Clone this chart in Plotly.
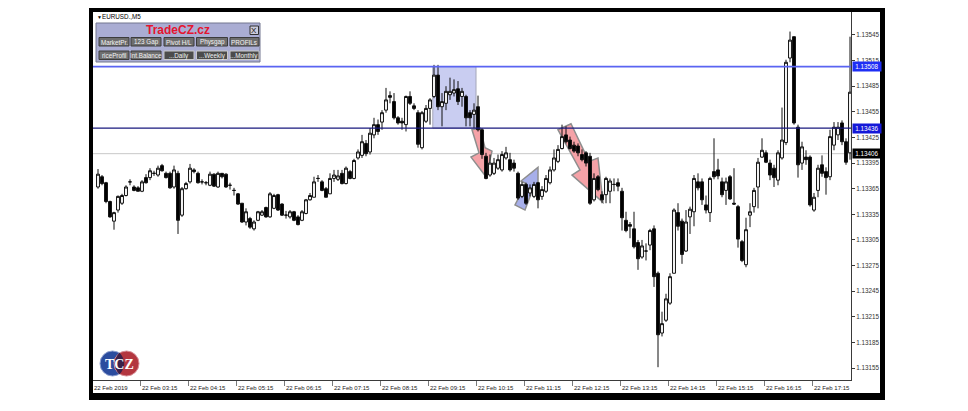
import plotly.graph_objects as go

W, H = 968, 411

# ---------------- data (EURUSD M5, 22 Feb 2019, 02:20 .. 18:00) ----------------
OPEN = [
    1.13367, 1.13379, 1.13372, 1.13350, 1.13327, 1.13340, 1.13348, 1.13357, 1.13373, 1.13367,
    1.13366, 1.13362, 1.13378, 1.13378, 1.13383, 1.13381, 1.13392, 1.13383, 1.13383, 1.13367,
    1.13383, 1.13334, 1.13365, 1.13373, 1.13387, 1.13383, 1.13373, 1.13372, 1.13369, 1.13382,
    1.13367, 1.13383, 1.13382, 1.13369, 1.13363, 1.13359, 1.13348, 1.13326, 1.13330, 1.13318,
    1.13328, 1.13334, 1.13343, 1.13332, 1.13342, 1.13358, 1.13347, 1.13334, 1.13332, 1.13338,
    1.13332, 1.13328, 1.13336, 1.13352, 1.13355, 1.13377, 1.13373, 1.13365, 1.13359, 1.13377,
    1.13376, 1.13383, 1.13371, 1.13385, 1.13377, 1.13401, 1.13404, 1.13418, 1.13408, 1.13428,
    1.13440, 1.13443, 1.13457, 1.13474, 1.13467, 1.13448, 1.13444, 1.13440, 1.13473, 1.13462,
    1.13454, 1.13413, 1.13444, 1.13459, 1.13473, 1.13498, 1.13461, 1.13465, 1.13475, 1.13477,
    1.13482, 1.13473, 1.13473, 1.13454, 1.13452, 1.13461, 1.13434, 1.13403, 1.13381, 1.13383,
    1.13389, 1.13387, 1.13401, 1.13399, 1.13395, 1.13383, 1.13356, 1.13370, 1.13360, 1.13356,
    1.13372, 1.13356, 1.13362, 1.13372, 1.13387, 1.13397, 1.13412, 1.13428, 1.13422, 1.13416,
    1.13415, 1.13405, 1.13407, 1.13403, 1.13352, 1.13379, 1.13358, 1.13358, 1.13362, 1.13370,
    1.13372, 1.13362, 1.13328, 1.13323, 1.13318, 1.13302, 1.13285, 1.13292, 1.13299, 1.13318,
    1.13266, 1.13196, 1.13211, 1.13231, 1.13266, 1.13337, 1.13327, 1.13292, 1.13332, 1.13338,
    1.13373, 1.13373, 1.13346, 1.13337, 1.13385, 1.13387, 1.13373, 1.13363, 1.13379, 1.13348,
    1.13344, 1.13303, 1.13276, 1.13334, 1.13344, 1.13367, 1.13402, 1.13407, 1.13395, 1.13389,
    1.13375, 1.13401, 1.13419, 1.13518, 1.13543, 1.13437, 1.13395, 1.13402, 1.13402, 1.13340,
    1.13363, 1.13393, 1.13385, 1.13379, 1.13416, 1.13428, 1.13442, 1.13420, 1.13407,
]
HIGH = [
    1.13388, 1.13381, 1.13373, 1.13351, 1.13338, 1.13357, 1.13359, 1.13369, 1.13376, 1.13369,
    1.13368, 1.13375, 1.13382, 1.13389, 1.13386, 1.13392, 1.13394, 1.13385, 1.13385, 1.13392,
    1.13386, 1.13367, 1.13373, 1.13394, 1.13389, 1.13385, 1.13376, 1.13374, 1.13385, 1.13383,
    1.13385, 1.13383, 1.13383, 1.13372, 1.13366, 1.13360, 1.13348, 1.13342, 1.13332, 1.13328,
    1.13339, 1.13340, 1.13344, 1.13361, 1.13359, 1.13359, 1.13348, 1.13339, 1.13340, 1.13339,
    1.13334, 1.13340, 1.13353, 1.13360, 1.13379, 1.13381, 1.13375, 1.13367, 1.13383, 1.13387,
    1.13387, 1.13387, 1.13391, 1.13387, 1.13400, 1.13411, 1.13428, 1.13422, 1.13436, 1.13448,
    1.13446, 1.13457, 1.13483, 1.13479, 1.13477, 1.13450, 1.13448, 1.13474, 1.13479, 1.13465,
    1.13457, 1.13456, 1.13463, 1.13471, 1.13510, 1.13510, 1.13477, 1.13485, 1.13495, 1.13493,
    1.13491, 1.13483, 1.13475, 1.13457, 1.13465, 1.13474, 1.13436, 1.13407, 1.13405, 1.13401,
    1.13405, 1.13409, 1.13414, 1.13407, 1.13399, 1.13385, 1.13373, 1.13372, 1.13370, 1.13373,
    1.13373, 1.13368, 1.13381, 1.13391, 1.13411, 1.13416, 1.13440, 1.13438, 1.13426, 1.13420,
    1.13418, 1.13411, 1.13409, 1.13407, 1.13383, 1.13381, 1.13362, 1.13379, 1.13377, 1.13377,
    1.13377, 1.13366, 1.13338, 1.13326, 1.13338, 1.13305, 1.13305, 1.13301, 1.13318, 1.13322,
    1.13268, 1.13221, 1.13242, 1.13266, 1.13342, 1.13348, 1.13330, 1.13340, 1.13344, 1.13381,
    1.13383, 1.13377, 1.13357, 1.13379, 1.13424, 1.13400, 1.13378, 1.13378, 1.13381, 1.13389,
    1.13346, 1.13305, 1.13331, 1.13348, 1.13366, 1.13401, 1.13424, 1.13410, 1.13399, 1.13393,
    1.13410, 1.13460, 1.13516, 1.13549, 1.13543, 1.13440, 1.13420, 1.13410, 1.13404, 1.13360,
    1.13393, 1.13404, 1.13390, 1.13434, 1.13443, 1.13443, 1.13445, 1.13424, 1.13543,
]
LOW = [
    1.13365, 1.13369, 1.13348, 1.13331, 1.13317, 1.13337, 1.13346, 1.13356, 1.13369, 1.13362,
    1.13362, 1.13361, 1.13371, 1.13375, 1.13380, 1.13379, 1.13385, 1.13377, 1.13365, 1.13365,
    1.13312, 1.13332, 1.13364, 1.13371, 1.13383, 1.13371, 1.13370, 1.13369, 1.13368, 1.13367,
    1.13366, 1.13377, 1.13366, 1.13364, 1.13357, 1.13346, 1.13325, 1.13322, 1.13318, 1.13316,
    1.13327, 1.13333, 1.13331, 1.13331, 1.13341, 1.13339, 1.13333, 1.13330, 1.13330, 1.13327,
    1.13322, 1.13327, 1.13335, 1.13351, 1.13355, 1.13373, 1.13362, 1.13355, 1.13359, 1.13373,
    1.13374, 1.13370, 1.13370, 1.13376, 1.13376, 1.13399, 1.13401, 1.13403, 1.13405, 1.13424,
    1.13428, 1.13434, 1.13454, 1.13465, 1.13446, 1.13440, 1.13434, 1.13432, 1.13463, 1.13457,
    1.13413, 1.13411, 1.13442, 1.13440, 1.13471, 1.13457, 1.13438, 1.13457, 1.13469, 1.13473,
    1.13463, 1.13461, 1.13438, 1.13438, 1.13436, 1.13432, 1.13400, 1.13376, 1.13379, 1.13381,
    1.13387, 1.13385, 1.13399, 1.13385, 1.13385, 1.13352, 1.13354, 1.13346, 1.13356, 1.13354,
    1.13342, 1.13352, 1.13360, 1.13370, 1.13385, 1.13395, 1.13411, 1.13418, 1.13411, 1.13407,
    1.13403, 1.13397, 1.13391, 1.13346, 1.13350, 1.13362, 1.13348, 1.13348, 1.13348, 1.13362,
    1.13362, 1.13316, 1.13314, 1.13307, 1.13295, 1.13270, 1.13283, 1.13281, 1.13293, 1.13250,
    1.13156, 1.13192, 1.13209, 1.13229, 1.13266, 1.13316, 1.13277, 1.13291, 1.13312, 1.13321,
    1.13363, 1.13346, 1.13336, 1.13326, 1.13376, 1.13376, 1.13355, 1.13346, 1.13352, 1.13346,
    1.13296, 1.13279, 1.13273, 1.13320, 1.13337, 1.13342, 1.13401, 1.13395, 1.13375, 1.13367,
    1.13369, 1.13399, 1.13416, 1.13513, 1.13440, 1.13378, 1.13387, 1.13393, 1.13344, 1.13338,
    1.13355, 1.13379, 1.13358, 1.13375, 1.13410, 1.13422, 1.13416, 1.13393, 1.13399,
]
CLOSE = [
    1.13382, 1.13371, 1.13350, 1.13332, 1.13337, 1.13356, 1.13357, 1.13367, 1.13373, 1.13363,
    1.13362, 1.13373, 1.13372, 1.13386, 1.13383, 1.13389, 1.13386, 1.13378, 1.13366, 1.13387,
    1.13328, 1.13365, 1.13371, 1.13389, 1.13385, 1.13372, 1.13373, 1.13372, 1.13382, 1.13368,
    1.13383, 1.13379, 1.13367, 1.13369, 1.13363, 1.13347, 1.13326, 1.13338, 1.13320, 1.13326,
    1.13338, 1.13338, 1.13332, 1.13359, 1.13357, 1.13340, 1.13334, 1.13334, 1.13338, 1.13328,
    1.13323, 1.13338, 1.13352, 1.13357, 1.13373, 1.13377, 1.13363, 1.13355, 1.13377, 1.13381,
    1.13380, 1.13371, 1.13389, 1.13377, 1.13398, 1.13408, 1.13420, 1.13406, 1.13430, 1.13440,
    1.13432, 1.13454, 1.13469, 1.13472, 1.13448, 1.13442, 1.13442, 1.13473, 1.13465, 1.13459,
    1.13417, 1.13454, 1.13459, 1.13469, 1.13498, 1.13461, 1.13467, 1.13479, 1.13479, 1.13481,
    1.13467, 1.13479, 1.13448, 1.13448, 1.13457, 1.13434, 1.13405, 1.13377, 1.13395, 1.13395,
    1.13399, 1.13405, 1.13407, 1.13387, 1.13389, 1.13354, 1.13370, 1.13348, 1.13366, 1.13370,
    1.13352, 1.13364, 1.13377, 1.13387, 1.13401, 1.13411, 1.13426, 1.13420, 1.13412, 1.13409,
    1.13407, 1.13399, 1.13395, 1.13348, 1.13377, 1.13364, 1.13352, 1.13377, 1.13374, 1.13370,
    1.13368, 1.13331, 1.13316, 1.13321, 1.13297, 1.13283, 1.13298, 1.13292, 1.13316, 1.13262,
    1.13194, 1.13207, 1.13236, 1.13262, 1.13340, 1.13321, 1.13288, 1.13326, 1.13341, 1.13377,
    1.13366, 1.13352, 1.13340, 1.13377, 1.13379, 1.13380, 1.13358, 1.13373, 1.13353, 1.13347,
    1.13306, 1.13281, 1.13317, 1.13338, 1.13363, 1.13396, 1.13410, 1.13396, 1.13381, 1.13378,
    1.13407, 1.13422, 1.13513, 1.13539, 1.13442, 1.13393, 1.13414, 1.13399, 1.13346, 1.13355,
    1.13389, 1.13383, 1.13378, 1.13426, 1.13437, 1.13437, 1.13420, 1.13396, 1.13478,
]
BARS = list(range(len(OPEN)))

PRICE_TICKS = [1.13545, 1.13515, 1.13485, 1.13455, 1.13425, 1.13395, 1.13365,
               1.13335, 1.13305, 1.13275, 1.13245, 1.13215, 1.13185, 1.13155]
PRICE_TICK_TEXT = ["1.13545", "1.13515", "1.13485", "1.13455", "1.13425", "1.13395", "1.13365",
                   "1.13335", "1.13305", "1.13275", "1.13245", "1.13215", "1.13185", "1.13155"]

TIME_LABEL_BARS = [11, 23, 35, 47, 59, 71, 83, 95, 107, 119, 131, 143, 155, 167, 179]
TIME_LABELS = ["22 Feb 03:15", "22 Feb 04:15", "22 Feb 05:15", "22 Feb 06:15", "22 Feb 07:15",
               "22 Feb 08:15", "22 Feb 09:15", "22 Feb 10:15", "22 Feb 11:15", "22 Feb 12:15",
               "22 Feb 13:15", "22 Feb 14:15", "22 Feb 15:15", "22 Feb 16:15", "22 Feb 17:15"]
DATE_LABEL = "22 Feb 2019"
SYMBOL = "EURUSD.,M5"

RESIST_LEVEL = 1.13508
SUPPORT_LEVEL = 1.13436
BID_LEVEL = 1.13406

# drawn objects, in (bar index, price)
ZONE_X = [83.7, 94.5]
ZONE_Y = [SUPPORT_LEVEL, RESIST_LEVEL]
ARROW_RED_1 = [(93.5, 1.13434), (95.5, 1.13436), (96.75, 1.13413), (98.5, 1.13409),
               (97.0, 1.13379), (93.25, 1.13402), (95.25, 1.13407)]
ARROW_RED_2 = [(115.0, 1.13434), (118.25, 1.13441), (122.75, 1.13397), (125.0, 1.13401),
               (126.25, 1.13349), (118.5, 1.13381), (120.5, 1.13387)]
ARROW_BLUE = [(110.0, 1.13390), (110.0, 1.13361), (108.75, 1.13365), (106.75, 1.13340),
              (104.25, 1.13346), (107.0, 1.13371), (105.75, 1.13374)]

PANEL_TITLE = "TradeCZ.cz"
BUTTONS_ROW1 = ["MarketPr.", "123 Gap", "Pivot H/L", "Physgap", "PROFILs"]
BUTTONS_ROW2 = ["riceProfil", "Int.Balance", "...Daily", "...Weekly", "...Monthly"]

# ---------------- layout geometry (pixels) ----------------
PLOT_L, PLOT_R, PLOT_T, PLOT_B = 93, 851, 12, 380
X_RANGE = [-1.25, 188.25]
Y_RANGE = [1.131410, 1.135719]
FONT = "Liberation Sans, Arial, sans-serif"


def fx(x):
    return x / W


def fy(y):
    return 1 - y / H


def path_of(points):
    return "M " + " L ".join(f"{a},{b}" for a, b in points) + " Z"


fig = go.Figure()
fig.add_trace(go.Candlestick(
    x=BARS, open=OPEN, high=HIGH, low=LOW, close=CLOSE,
    increasing=dict(line=dict(color="#111111", width=1), fillcolor="white"),
    decreasing=dict(line=dict(color="#111111", width=1), fillcolor="black"),
    whiskerwidth=0, hoverinfo="skip", showlegend=False,
))

shapes = []
# outer black frame and white chart window
shapes.append(dict(type="rect", xref="paper", yref="paper", x0=fx(89), x1=fx(885), y0=fy(400), y1=fy(8),
                   fillcolor="black", line=dict(width=0), layer="below"))
shapes.append(dict(type="rect", xref="paper", yref="paper", x0=fx(93), x1=fx(880), y0=fy(393), y1=fy(12),
                   fillcolor="white", line=dict(width=0), layer="below"))
# bid line
shapes.append(dict(type="line", xref="paper", yref="y", x0=fx(PLOT_L), x1=fx(PLOT_R), y0=BID_LEVEL, y1=BID_LEVEL,
                   line=dict(color="#C8C8C8", width=1), layer="below"))
# zone and arrows
shapes.append(dict(type="rect", xref="x", yref="y", x0=ZONE_X[0], x1=ZONE_X[1], y0=ZONE_Y[0], y1=ZONE_Y[1],
                   fillcolor="#C9CDF1", line=dict(color="#A4A6B8", width=1), layer="below"))
for pts, col in [(ARROW_RED_1, "#F5A2A7"), (ARROW_RED_2, "#F5A2A7"), (ARROW_BLUE, "#A7AFEA")]:
    shapes.append(dict(type="path", xref="x", yref="y", path=path_of(pts),
                       fillcolor=col, line=dict(color="#8E8E8E", width=1.5), layer="below"))
# horizontal levels
shapes.append(dict(type="line", xref="paper", yref="y", x0=fx(PLOT_L), x1=fx(PLOT_R), y0=RESIST_LEVEL, y1=RESIST_LEVEL,
                   line=dict(color="#5A64F2", width=1.8), layer="above"))
shapes.append(dict(type="line", xref="paper", yref="y", x0=fx(PLOT_L), x1=fx(PLOT_R), y0=SUPPORT_LEVEL, y1=SUPPORT_LEVEL,
                   line=dict(color="#18187E", width=1.3), layer="above"))

# TradeCZ panel
shapes.append(dict(type="rect", xref="paper", yref="paper", x0=fx(96), x1=fx(260), y0=fy(62), y1=fy(23),
                   fillcolor="#AAADD3", line=dict(color="#73768F", width=1), layer="above"))
shapes.append(dict(type="rect", xref="paper", yref="paper", x0=fx(250), x1=fx(258.5), y0=fy(34.5), y1=fy(26),
                   fillcolor="#CBCBDA", line=dict(color="#303030", width=1), layer="above"))
BTN_X = [(99, 129), (131, 161), (164, 194), (196.5, 227.5), (230, 259)]
annotations = []
for row, (ya, yb) in enumerate([(37.5, 46), (51, 59.5)]):
    labels = BUTTONS_ROW1 if row == 0 else BUTTONS_ROW2
    for k, (xa, xb) in enumerate(BTN_X):
        dark = row == 1 and k >= 2
        shapes.append(dict(type="rect", xref="paper", yref="paper", x0=fx(xa), x1=fx(xb), y0=fy(yb), y1=fy(ya),
                           fillcolor="#4C4C4C" if dark else "#6E6E6E",
                           line=dict(color="#C9C9C9" if dark else "#3C3C3C", width=1), layer="above"))
        annotations.append(dict(xref="paper", yref="paper", x=fx((xa + xb) / 2), y=fy((ya + yb) / 2 + 0.3),
                                text=labels[k], showarrow=False, xanchor="center", yanchor="middle",
                                font=dict(family=FONT, size=6.3, color="#F2F2F2")))
annotations.append(dict(xref="paper", yref="paper", x=fx(178), y=fy(30.5), text="<b>" + PANEL_TITLE + "</b>",
                        showarrow=False, xanchor="center", yanchor="middle",
                        font=dict(family=FONT, size=12, color="#E5142E")))
annotations.append(dict(xref="paper", yref="paper", x=fx(254.3), y=fy(30.3), text="X",
                        showarrow=False, xanchor="center", yanchor="middle",
                        font=dict(family=FONT, size=8, color="#111111")))

# TCZ logo
shapes.append(dict(type="circle", xref="paper", yref="paper", x0=fx(100), x1=fx(125), y0=fy(376), y1=fy(351),
                   fillcolor="#2B4C9E", line=dict(color="#8FA0D0", width=1), layer="above"))
shapes.append(dict(type="circle", xref="paper", yref="paper", x0=fx(114), x1=fx(139), y0=fy(376), y1=fy(351),
                   fillcolor="#B3363F", line=dict(color="#D89098", width=1), layer="above"))
shapes.append(dict(type="path", xref="paper", yref="paper",
                   path=f"M {fx(119.5)},{fy(352.5)} Q {fx(129)},{fy(363.5)} {fx(119.5)},{fy(374.5)} "
                        f"Q {fx(110)},{fy(363.5)} {fx(119.5)},{fy(352.5)} Z",
                   fillcolor="#3B2048", line=dict(width=0), layer="above"))
annotations.append(dict(xref="paper", yref="paper", x=fx(119.5), y=fy(364), text="<b>TCZ</b>",
                        showarrow=False, xanchor="center", yanchor="middle",
                        font=dict(family="Liberation Serif, DejaVu Serif, serif", size=14, color="white")))

# symbol label
annotations.append(dict(xref="paper", yref="paper", x=fx(94.5), y=fy(16.5), text="▼", showarrow=False,
                        xanchor="left", yanchor="middle", font=dict(family=FONT, size=5, color="black")))
annotations.append(dict(xref="paper", yref="paper", x=fx(99.5), y=fy(16.5), text=SYMBOL, showarrow=False,
                        xanchor="left", yanchor="middle", font=dict(family=FONT, size=6.3, color="black")))

# time labels
annotations.append(dict(xref="paper", yref="paper", x=fx(92), y=fy(387.5), text=DATE_LABEL, showarrow=False,
                        xanchor="left", yanchor="middle", font=dict(family=FONT, size=6, color="#222222")))
for b, t in zip(TIME_LABEL_BARS, TIME_LABELS):
    annotations.append(dict(xref="x", yref="paper", x=b - 0.5, y=fy(387.5), text=t, showarrow=False,
                            xanchor="left", yanchor="middle", font=dict(family=FONT, size=6, color="#222222")))

# highlighted price labels
for lvl, bg in [(RESIST_LEVEL, "#1E2EF5"), (SUPPORT_LEVEL, "#1418D8"), (BID_LEVEL, "#000000")]:
    annotations.append(dict(xref="paper", yref="y", x=fx(851.5), y=lvl, text=f"{lvl:.5f}", showarrow=False,
                            xanchor="left", yanchor="middle", bgcolor=bg, borderpad=1, width=26, height=7,
                            font=dict(family=FONT, size=6.3, color="white")))

fig.update_layout(
    width=W, height=H,
    margin=dict(l=0, r=0, t=0, b=0),
    paper_bgcolor="white", plot_bgcolor="rgba(0,0,0,0)",
    showlegend=False, boxgap=0.15, boxgroupgap=0.15,
    shapes=shapes, annotations=annotations,
    xaxis=dict(domain=[fx(PLOT_L), fx(PLOT_R)], range=X_RANGE, showgrid=False, zeroline=False,
               showline=True, linecolor="#3A3A3A", linewidth=1,
               ticks="outside", ticklen=5, tickcolor="#7A7A7A", tickwidth=1,
               tickvals=[b - 0.5 for b in TIME_LABEL_BARS], showticklabels=False,
               rangeslider=dict(visible=False), fixedrange=True),
    yaxis=dict(domain=[fy(PLOT_B), fy(PLOT_T)], range=Y_RANGE, side="right", showgrid=False, zeroline=False,
               showline=True, linecolor="#3A3A3A", linewidth=1,
               ticks="outside", ticklen=3, tickcolor="#3A3A3A", tickwidth=1,
               tickvals=PRICE_TICKS, ticktext=PRICE_TICK_TEXT,
               tickfont=dict(family=FONT, size=6.3, color="#333333"), fixedrange=True),
)

fig.write_html("out.html", config={"displayModeBar": False},
               post_script="document.body.style.margin='0px';document.body.style.overflow='hidden';")
